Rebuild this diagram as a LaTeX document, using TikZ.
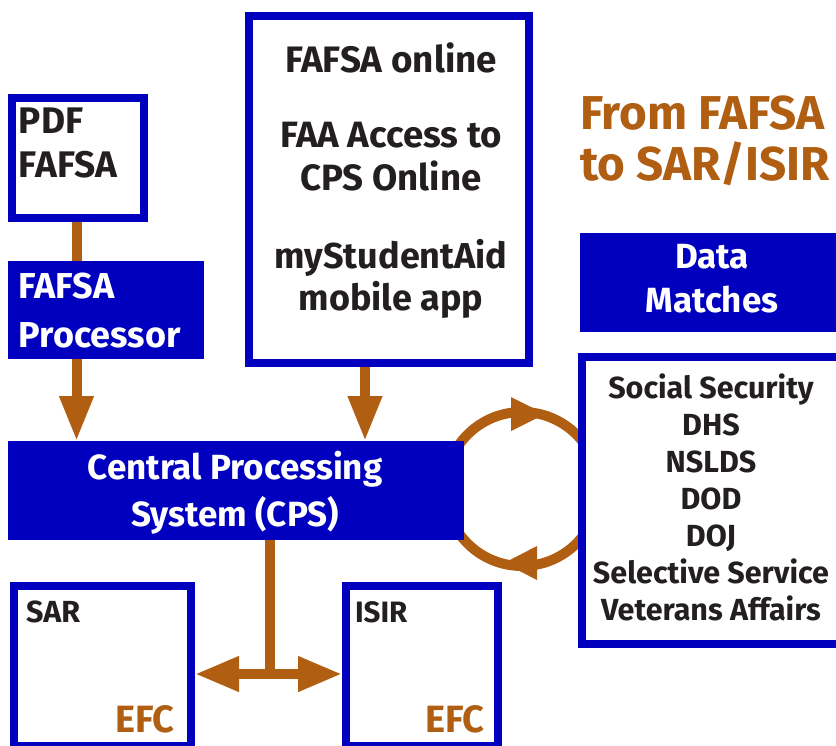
\documentclass[tikz,border=0pt]{standalone}
\usepackage{fontspec}
\setmainfont{Fira Sans}
\usetikzlibrary{arrows.meta}
\definecolor{fblue}{RGB}{0,0,190}
\definecolor{fbrown}{RGB}{176,94,18}
\definecolor{ftext}{RGB}{35,31,32}
\tikzset{
  wbox/.style={draw=fblue,line width=8pt,fill=white,inner sep=0pt},
  bbox/.style={fill=fblue,draw=none,inner sep=0pt,outer sep=0pt},
  txt/.style={inner sep=0pt,outer sep=0pt,text=ftext,font=\bfseries},
  wtxt/.style={inner sep=0pt,outer sep=0pt,text=white,font=\bfseries},
  arr/.style={draw=fbrown,line width=10pt,-{Triangle[length=45pt,width=32pt]}},
  darr/.style={draw=fbrown,line width=10pt,{Triangle[length=44pt,width=33pt]}-{Triangle[length=44pt,width=33pt]}},
  link/.style={draw=fbrown,line width=10pt},
}
\begin{document}
\begin{tikzpicture}[x=1pt,y=-1pt]
\useasboundingbox (0,0) rectangle (836,745);
\clip (0,0) rectangle (836,745);
% data-match cycle (drawn first, covered by boxes)
\coordinate (cyc) at (522,489);
\draw[link] (cyc) circle[radius=77pt];
\fill[fbrown] (511,397) -- (545,414) -- (511,431) -- cycle;
\fill[fbrown] (537,546) -- (504,563) -- (537,580) -- cycle;
% boxes
\node[wbox,minimum width=132pt,minimum height=120pt] (pdf) at (78,158) {};
\node[bbox,minimum width=196pt,minimum height=98pt] (proc) at (106,310) {};
\node[bbox,minimum width=456pt,minimum height=99pt] (cps) at (236,490.5) {};
\node[wbox,minimum width=280pt,minimum height=347pt] (mid) at (389,189.5) {};
\node[bbox,minimum width=270pt,minimum height=99pt] (dm) at (715,282.5) {};
\node[wbox,minimum width=263pt,minimum height=287pt] (list) at (713.5,500.5) {};
\node[wbox,minimum width=177pt,minimum height=160pt] (sar) at (102.5,666) {};
\node[wbox,minimum width=152pt,minimum height=160pt] (isir) at (422,666) {};
% texts (base anchor = baseline of the last line)
\node[txt,anchor=base west,align=left,font=\bfseries\fontsize{37}{44}\selectfont] (tpdf) at (19,177) {PDF\\FAFSA};
\node[wtxt,anchor=base west,align=left,font=\bfseries\fontsize{36}{49}\selectfont] (tproc) at (19,347) {FAFSA\\Processor};
\node[wtxt,anchor=base,align=center,font=\bfseries\fontsize{35}{47}\selectfont] (tcps) at (235,526) {Central Processing\\System (CPS)};
\node[txt,anchor=base,font=\bfseries\fontsize{36.8}{43}\selectfont] (t1) at (391,72) {FAFSA online};
\node[txt,anchor=base,align=center,font=\bfseries\fontsize{36.6}{43}\selectfont] (t2) at (391,190) {FAA Access to\\CPS Online};
\node[txt,anchor=base,align=center,font=\bfseries\fontsize{36}{42}\selectfont] (t3) at (391,310) {myStudentAid\\mobile app};
\node[anchor=base west,align=left,inner sep=0pt,text=fbrown,font=\bfseries\fontsize{47.5}{51}\selectfont] (title) at (580,180) {From FAFSA\\to SAR/ISIR};
\node[wtxt,anchor=base,align=center,font=\bfseries\fontsize{35}{44}\selectfont] (tdm) at (712,312) {Data\\Matches};
\node[txt,anchor=base,align=center,font=\bfseries\fontsize{30.5}{37}\selectfont] (tlist) at (711,620) {Social Security\\DHS\\NSLDS\\DOD\\DOJ\\Selective Service\\Veterans Affairs};
\node[txt,anchor=base west,font=\bfseries\fontsize{30.5}{34}\selectfont] (tsar) at (26,622) {SAR};
\node[txt,anchor=base west,font=\bfseries\fontsize{29.5}{34}\selectfont] (tisir) at (355,622) {ISIR};
\node[anchor=base east,inner sep=0pt,text=fbrown,font=\bfseries\fontsize{38}{44}\selectfont] (efc1) at (175,732) {EFC};
\node[anchor=base east,inner sep=0pt,text=fbrown,font=\bfseries\fontsize{38}{44}\selectfont] (efc2) at (485,732) {EFC};
% connectors
\coordinate (xa) at (76.5,0);
\coordinate (xb) at (365,0);
\coordinate (j) at (270,674);
\draw[link] (pdf.south -| xa) -- (proc.north -| xa);
\draw[arr] (proc.south -| xa) -- (cps.north -| xa);
\draw[arr] (mid.south -| xb) -- (cps.north -| xb);
\draw[link] (cps.south -| j) -- (j);
\draw[darr] (sar.east |- j) -- (isir.west |- j);
\end{tikzpicture}
\end{document}
